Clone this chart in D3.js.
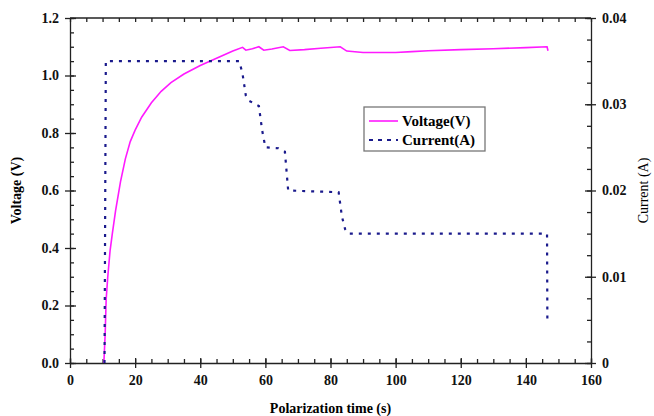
<!DOCTYPE html>
<html>
<head>
<meta charset="utf-8">
<script src="https://cdn.jsdelivr.net/npm/d3@7"></script>
<style>
  body { margin: 0; background: #fff; }
  .axis path, .axis line { stroke: #222; stroke-width: 1.3; }
</style>
</head>
<body>
<div id="chart"></div>
<script>
// voltage trace (s, V)
var voltTime = [10.4, 10.8, 11.1, 11.6, 12.3, 13, 14, 15.5, 17, 18.5, 20, 22, 25, 28, 31, 35, 40, 45, 50, 53, 54, 56, 58, 59.5, 62, 65.5, 67.5, 72, 77, 83, 85, 90, 95, 100, 105, 110, 120, 130, 140, 146.5, 146.8]
var voltage = [0, 0.1, 0.22, 0.3, 0.39, 0.45, 0.53, 0.63, 0.71, 0.77, 0.81, 0.855, 0.905, 0.945, 0.975, 1.005, 1.035, 1.06, 1.085, 1.098, 1.088, 1.093, 1.1, 1.088, 1.092, 1.1, 1.087, 1.09, 1.095, 1.1, 1.085, 1.08, 1.08, 1.08, 1.083, 1.086, 1.09, 1.093, 1.097, 1.1, 1.086]

// current trace (s, A)
var currTime = [10.6, 11, 52, 53, 54, 55, 58, 59, 60, 64, 66, 67, 82.5, 83.5, 84.5, 85.5, 146.5, 146.6]
var current = [0, 0.035, 0.035, 0.0335, 0.031, 0.0304, 0.0298, 0.027, 0.025, 0.0249, 0.0245, 0.02, 0.0198, 0.017, 0.0155, 0.015, 0.015, 0.005]

var xTicks = [0, 20, 40, 60, 80, 100, 120, 140, 160]
var vTicks = [0, 0.2, 0.4, 0.6, 0.8, 1.0, 1.2]
var cTicks = [0, 0.01, 0.02, 0.03, 0.04]
var cTickLabels = ["0", "0.01", "0.02", "0.03", "0.04"]

var FONT = "'Liberation Serif', 'Times New Roman', serif"
var W = 654, H = 416
var margin = {top: 18, right: 63, bottom: 53, left: 70}
var width = W - margin.left - margin.right
var height = H - margin.top - margin.bottom

var x = d3.scaleLinear().domain([0, 160]).range([0, width])
var yV = d3.scaleLinear().domain([0, 1.2]).range([height, 0])
var yC = d3.scaleLinear().domain([0, 0.04]).range([height, 0])

var svg = d3.select("#chart").append("svg")
  .attr("width", W)
  .attr("height", H)
  .style("font-family", FONT)
  .append("g")
  .attr("transform", "translate(" + margin.left + "," + margin.top + ")")

// minor ticks (inside)
var minorX = d3.range(0, 161, 5)
var minorV = d3.range(0, 1.2001, 0.05)
var minorC = d3.range(0, 0.04001, 0.0025)

svg.append("g").attr("class", "axis")
  .attr("transform", "translate(0," + height + ")")
  .call(d3.axisTop(x).tickValues(minorX).tickSize(4).tickFormat("").tickSizeOuter(0))
  .select(".domain").remove()
svg.append("g").attr("class", "axis")
  .call(d3.axisBottom(x).tickValues(minorX).tickSize(4).tickFormat("").tickSizeOuter(0))
  .select(".domain").remove()
svg.append("g").attr("class", "axis")
  .call(d3.axisRight(yV).tickValues(minorV).tickSize(4).tickFormat("").tickSizeOuter(0))
  .select(".domain").remove()
svg.append("g").attr("class", "axis")
  .attr("transform", "translate(" + width + ",0)")
  .call(d3.axisLeft(yC).tickValues(minorC).tickSize(4).tickFormat("").tickSizeOuter(0))
  .select(".domain").remove()

// major axes
var xAxis = svg.append("g").attr("class", "axis")
  .attr("transform", "translate(0," + height + ")")
  .call(d3.axisBottom(x).tickValues(xTicks).tickSize(5).tickSizeOuter(0).tickPadding(7))
xAxis.selectAll(".tick line").attr("y1", -5)

var vAxis = svg.append("g").attr("class", "axis")
  .call(d3.axisLeft(yV).tickValues(vTicks).tickSize(5).tickSizeOuter(0).tickPadding(6).tickFormat(d3.format(".1f")))
vAxis.selectAll(".tick line").attr("x1", 6)

var cAxis = svg.append("g").attr("class", "axis")
  .attr("transform", "translate(" + width + ",0)")
  .call(d3.axisRight(yC).tickValues(cTicks).tickSize(5).tickSizeOuter(0).tickPadding(6)
    .tickFormat(function(d, i) { return cTickLabels[i] }))
cAxis.selectAll(".tick line").attr("x1", -6)

svg.selectAll(".axis")
  .attr("font-family", FONT)
  .attr("font-size", 14)
  .attr("font-weight", "bold")
svg.selectAll(".axis text").attr("fill", "#111")

svg.append("line")
  .attr("x1", 0).attr("x2", width).attr("y1", 0).attr("y2", 0)
  .attr("stroke", "#222").attr("stroke-width", 1.3)

// series
var voltData = voltTime.map(function(t, i) { return [t, voltage[i]] })
var currData = currTime.map(function(t, i) { return [t, current[i]] })

svg.append("path")
  .datum(voltData)
  .attr("fill", "none")
  .attr("stroke", "#ff1aff")
  .attr("stroke-width", 1.6)
  .attr("d", d3.line().x(function(d) { return x(d[0]) }).y(function(d) { return yV(d[1]) }))

svg.append("path")
  .datum(currData)
  .attr("fill", "none")
  .attr("stroke", "#1a1a8c")
  .attr("stroke-width", 2.2)
  .attr("stroke-dasharray", "3,6")
  .attr("d", d3.line().x(function(d) { return x(d[0]) }).y(function(d) { return yC(d[1]) }))

// axis titles
svg.append("text")
  .attr("x", width / 2).attr("y", height + 50)
  .attr("text-anchor", "middle")
  .style("font-size", "14px").style("font-weight", "bold")
  .text("Polarization time (s)")

svg.append("text")
  .attr("transform", "translate(-49," + (height / 2) + ") rotate(-90)")
  .attr("text-anchor", "middle")
  .style("font-size", "14px").style("font-weight", "bold")
  .text("Voltage (V)")

svg.append("text")
  .attr("transform", "translate(" + (width + 57) + "," + (height / 2) + ") rotate(-90)")
  .attr("text-anchor", "middle")
  .style("font-size", "14px")
  .text("Current (A)")

// legend
var legend = svg.append("g").attr("transform", "translate(294,89)")
legend.append("rect")
  .attr("width", 121).attr("height", 44)
  .attr("fill", "#fff").attr("stroke", "#777").attr("stroke-width", 1.3)
legend.append("line")
  .attr("x1", 5).attr("x2", 34).attr("y1", 14).attr("y2", 14)
  .attr("stroke", "#ff1aff").attr("stroke-width", 1.6)
legend.append("line")
  .attr("x1", 5).attr("x2", 34).attr("y1", 33).attr("y2", 33)
  .attr("stroke", "#1a1a8c").attr("stroke-width", 2.2).attr("stroke-dasharray", "4,5")
legend.append("text").attr("x", 38).attr("y", 19)
  .style("font-size", "15px").style("font-weight", "bold").text("Voltage(V)")
legend.append("text").attr("x", 38).attr("y", 38)
  .style("font-size", "15px").style("font-weight", "bold").text("Current(A)")
</script>
</body>
</html>
